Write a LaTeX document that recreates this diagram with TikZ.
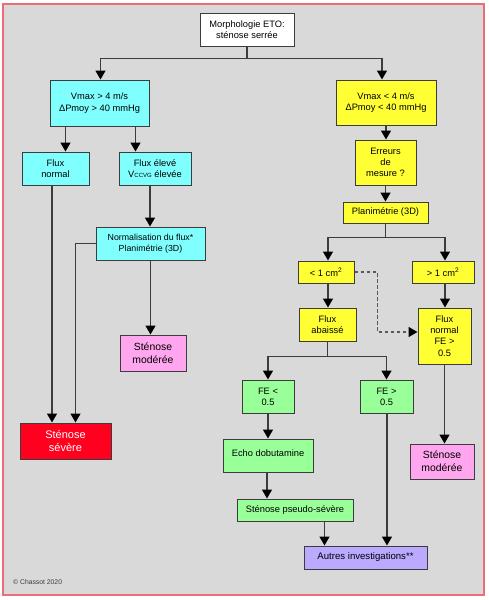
\documentclass[tikz,border=0pt]{standalone}
\usepackage{fontspec}
\setmainfont{Liberation Sans}
\usetikzlibrary{arrows.meta,calc}
\definecolor{bg}{RGB}{217,217,217}
\definecolor{frame}{RGB}{238,108,118}
\definecolor{cy}{RGB}{128,255,255}
\definecolor{ye}{RGB}{255,255,51}
\definecolor{gr}{RGB}{153,255,153}
\definecolor{pk}{RGB}{255,166,238}
\definecolor{rd}{RGB}{255,0,30}
\definecolor{lv}{RGB}{187,170,255}
\definecolor{ln}{RGB}{60,60,60}
\begin{document}
\begin{tikzpicture}[x=1pt,y=-1pt,
  box/.style={draw=ln,line width=1pt,align=center,inner sep=1pt,
    font=\fontsize{9.3}{11.3}\selectfont},
  big/.style={box,font=\fontsize{10.4}{13}\selectfont},
  conn/.style={draw=ln,line width=1.5pt},
  arr/.style={conn,-{Triangle[length=9pt,width=10pt,color=black]}},
  dsh/.style={conn,-{Triangle[length=9pt,width=10pt,color=black]},dash pattern=on 3.5pt off 2.5pt,draw=ln!85}]
\useasboundingbox (0,0) rectangle (489,600);
\fill[white] (0,0) rectangle (489,600);
\draw[frame,fill=bg,line width=1.5pt] (3,4) rectangle (484,595);

\node[box,fill=white,minimum width=94,minimum height=33] (morph) at (247,29.5) {Morphologie ETO:\\sténose serrée};
\node[box,fill=cy,minimum width=99,minimum height=46] (vhi) at (99.5,103) {Vmax > 4 m/s\\ΔPmoy > 40 mmHg};
\node[box,fill=ye,minimum width=100,minimum height=45] (vlo) at (386,102.5) {Vmax < 4 m/s\\ΔPmoy < 40 mmHg};
\node[box,fill=cy,minimum width=67,minimum height=33] (fnorm) at (55.5,168.5) {Flux\\normal};
\node[box,fill=cy,minimum width=72,minimum height=33] (felev) at (155,168.5) {Flux élevé\\V{\fontsize{6}{6}\selectfont CCVG} élevée};
\node[box,fill=ye,minimum width=61,minimum height=45] (err) at (385.5,162.5) {Erreurs\\de\\mesure ?};
\node[box,fill=cy,minimum width=109,minimum height=33,font=\fontsize{8.8}{11.3}\selectfont] (normal) at (150.5,243.5) {Normalisation du flux*\\Planimétrie (3D)};
\node[big,fill=pk,minimum width=66,minimum height=36] (modL) at (153,353) {Sténose\\modérée};
\node[big,fill=rd,text=white,minimum width=91,minimum height=36,font=\fontsize{11}{13.5}\selectfont] (sev) at (65.5,441) {Sténose\\sévère};
\node[box,fill=ye,minimum width=85,minimum height=21] (plan) at (385.5,212.5) {Planimétrie (3D)};
\node[box,fill=ye,minimum width=56,minimum height=22] (lt1) at (326,272) {< 1 cm\textsuperscript{2}};
\node[box,fill=ye,minimum width=62,minimum height=22] (gt1) at (443,272) {> 1 cm\textsuperscript{2}};
\node[box,fill=ye,minimum width=57,minimum height=33] (fab) at (327.5,324.5) {Flux\\abaissé};
\node[box,fill=ye,minimum width=53,minimum height=56] (fnFE) at (444.5,336) {Flux\\normal\\FE >\\0.5};
\node[box,fill=gr,minimum width=52,minimum height=33] (felt) at (268,396.5) {FE <\\0.5};
\node[box,fill=gr,minimum width=53,minimum height=33] (fegt) at (386.5,396.5) {FE >\\0.5};
\node[big,fill=pk,minimum width=64,minimum height=35] (modR) at (442,461.5) {Sténose\\modérée};
\node[box,fill=gr,minimum width=90,minimum height=33] (echo) at (268,455.5) {\raisebox{5pt}{Echo dobutamine}};
\node[box,fill=gr,minimum width=116,minimum height=22] (pseudo) at (295,510) {Sténose pseudo-sévère};
\node[box,fill=lv,minimum width=123,minimum height=23,font=\fontsize{9.6}{11}\selectfont] (autres) at (365.5,557.5) {Autres investigations**};
\node[anchor=west,text=ln,font=\fontsize{6.8}{8}\selectfont,inner sep=0pt] (copy) at (13,582) {© Chassot 2020};

% connectors
\draw[conn] (morph.south) -- ++(0,12) coordinate (j1);
\draw[arr] (j1) -| ([xshift=1]vhi.north);
\draw[arr] (j1) -| ([xshift=-4]vlo.north);
\draw[arr] ([xshift=16]vhi.south west) -- ([xshift=16]vhi.south west |- fnorm.north);
\draw[arr] ([xshift=-14]vhi.south east) -- ([xshift=-14]vhi.south east |- felev.north);
\draw[arr] (vlo.south) -- (vlo.south |- err.north);
\draw[arr] ([xshift=-3.5]fnorm.south) -- ([xshift=-3.5]fnorm.south |- sev.north);
\draw[arr] ([xshift=-5]felev.south) -- ([xshift=-5]felev.south |- normal.north);
\draw[arr] (normal.west) -| ([xshift=56]sev.north west);
\draw[arr] (normal.south) -- (normal.south |- modL.north);
\draw[arr] (err.south) -- (err.south |- plan.north);
\draw[conn] (plan.south) -- ++(0,14) coordinate (j2);
\draw[arr] (j2) -| ([xshift=2]lt1.north);
\draw[arr] (j2) -| ([xshift=2]gt1.north);
\draw[arr] ([xshift=2]lt1.south) -- ([xshift=2]lt1.south |- fab.north);
\draw[arr] ([xshift=2]gt1.south) -- ([xshift=2]gt1.south |- fnFE.north);
\draw[dsh] (lt1.east) -- ++(23,0) |- ([yshift=4]fnFE.west);
\draw[conn] (fab.south) -- ++(0,15) coordinate (j3);
\draw[arr] (j3) -| (felt.north);
\draw[arr] (j3) -| (fegt.north);
\draw[arr] (fnFE.south) -- (fnFE.south |- modR.north);
\draw[arr] (felt.south) -- (felt.south |- echo.north);
\draw[arr] ([xshift=-1]echo.south) -- ([xshift=-1]echo.south |- pseudo.north);
\draw[arr] ([xshift=-29]pseudo.south east) -- ([xshift=-29]pseudo.south east |- autres.north);
\draw[arr] ([xshift=0.5]fegt.south) -- ([xshift=0.5]fegt.south |- autres.north);
\end{tikzpicture}
\end{document}
